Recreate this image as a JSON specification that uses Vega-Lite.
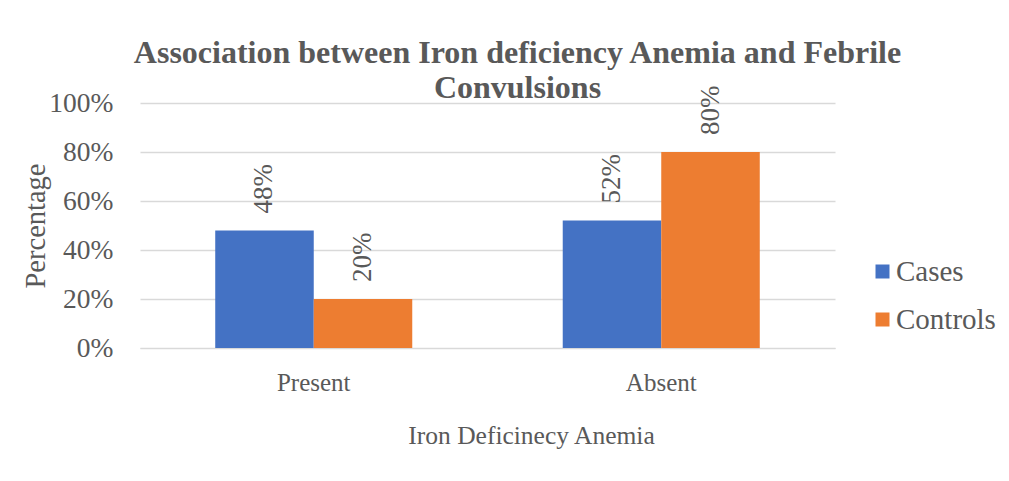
{
  "$schema": "https://vega.github.io/schema/vega-lite/v6.json",
  "width": 695,
  "height": 245,
  "autosize": "none",
  "padding": {"left": 140, "top": 103, "right": 174, "bottom": 133},
  "background": "white",
  "config": {"view": {"stroke": null}, "font": "Liberation Serif"},
  "title": {
    "text": ["Association between Iron deficiency Anemia and Febrile", "Convulsions"],
    "font": "Liberation Serif",
    "fontSize": 32,
    "fontWeight": "bold",
    "color": "#595959",
    "anchor": "middle",
    "dx": 30,
    "offset": -19,
    "lineHeight": 35
  },
  "data": {
    "values": [
      {"group": "Present", "series": "Cases", "value": 0.48},
      {"group": "Present", "series": "Controls", "value": 0.20},
      {"group": "Absent", "series": "Cases", "value": 0.52},
      {"group": "Absent", "series": "Controls", "value": 0.80}
    ]
  },
  "encoding": {
    "x": {
      "field": "group",
      "type": "nominal",
      "sort": ["Present", "Absent"],
      "scale": {"paddingInner": 0.433, "paddingOuter": 0.2165},
      "axis": {
        "title": "Iron Deficinecy Anemia",
        "labelAngle": 0,
        "labelFont": "Liberation Serif",
        "labelFontSize": 25,
        "labelColor": "#595959",
        "labelPadding": 22,
        "ticks": false,
        "domain": true,
        "domainColor": "#d9d9d9",
        "titleFont": "Liberation Serif",
        "titleFontSize": 25.5,
        "titleFontWeight": "normal",
        "titleColor": "#595959",
        "titleX": 391,
        "titleY": 95,
        "titleBaseline": "alphabetic"
      }
    },
    "xOffset": {"field": "series", "type": "nominal", "sort": ["Cases", "Controls"], "scale": {"paddingInner": 0, "paddingOuter": 0}},
    "y": {
      "field": "value",
      "type": "quantitative",
      "scale": {"domain": [0, 1]},
      "axis": {
        "title": "Percentage",
        "format": ".0%",
        "values": [0, 0.2, 0.4, 0.6, 0.8, 1],
        "labelFont": "Liberation Serif",
        "labelFontSize": 27.5,
        "labelColor": "#595959",
        "labelPadding": 27,
        "ticks": false,
        "domain": false,
        "grid": true,
        "gridColor": "#d9d9d9",
        "gridWidth": 1.3,
        "titleFont": "Liberation Serif",
        "titleFontSize": 28.5,
        "titleFontWeight": "normal",
        "titleColor": "#595959",
        "titleX": -105,
        "titleY": 122.5,
        "titleAngle": 270,
        "titleAlign": "center",
        "titleBaseline": "middle"
      }
    }
  },
  "layer": [
    {
      "mark": {"type": "bar"},
      "encoding": {
        "color": {
          "field": "series",
          "type": "nominal",
          "sort": ["Cases", "Controls"],
          "scale": {"domain": ["Cases", "Controls"], "range": ["#4472C4", "#ED7D31"]},
          "legend": {
            "title": null,
            "orient": "none",
            "legendX": 728,
            "legendY": 154,
            "symbolType": "square",
            "symbolSize": 196,
            "symbolStrokeWidth": 0,
            "labelFont": "Liberation Serif",
            "labelFontSize": 29,
            "labelColor": "#595959",
            "labelOffset": -1,
            "rowPadding": 18
          }
        }
      }
    },
    {
      "mark": {"type": "text", "angle": 270, "align": "left", "baseline": "middle", "dx": 17, "fontSize": 27, "color": "#595959", "font": "Liberation Serif"},
      "encoding": {"text": {"field": "value", "type": "quantitative", "format": ".0%"}}
    }
  ]
}
